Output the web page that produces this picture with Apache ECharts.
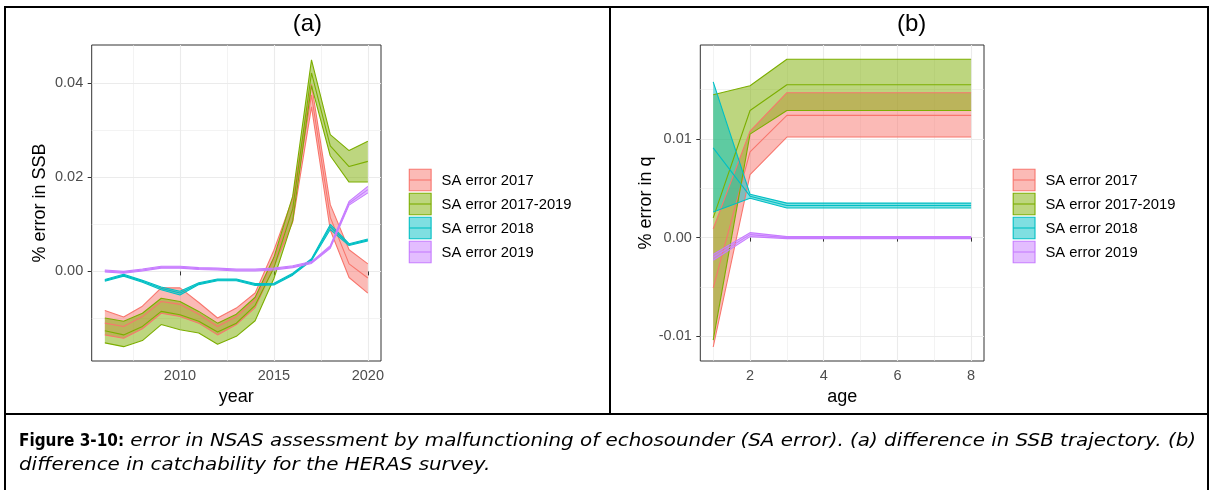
<!DOCTYPE html>
<html>
<head>
<meta charset="utf-8">
<script src="https://cdn.jsdelivr.net/npm/echarts@6/dist/echarts.min.js"></script>
<style>
html,body{margin:0;padding:0;background:#fff;}
#chart{width:1211px;height:490px;}
</style>
</head>
<body>
<div id="chart"></div>
<script>
// ---------- data ----------
const seriesNames = ['SA error 2017', 'SA error 2017-2019', 'SA error 2018', 'SA error 2019'];
const seriesColors = ['#F8766D', '#7CAE00', '#00BFC4', '#C77CFF'];
const seriesFills = ['rgba(248,118,109,0.5)', 'rgba(124,174,0,0.5)', 'rgba(0,191,196,0.5)', 'rgba(199,124,255,0.5)'];

// panel (a): % error in SSB by year
const years = [2006, 2007, 2008, 2009, 2010, 2011, 2012, 2013, 2014, 2015, 2016, 2017, 2018, 2019, 2020];
const ssbLow2017 = [-0.0135, -0.0142, -0.0122, -0.0089, -0.0096, -0.0110, -0.0135, -0.0113, -0.0077, 0.0010, 0.0105, 0.0350, 0.0088, -0.0013, -0.0046];
const ssbMid2017 = [-0.0110, -0.0117, -0.0096, -0.0064, -0.0070, -0.0091, -0.0117, -0.0096, -0.0060, 0.0027, 0.0130, 0.0375, 0.0115, 0.0016, -0.0014];
const ssbHigh2017 = [-0.0083, -0.0097, -0.0074, -0.0035, -0.0035, -0.0066, -0.0099, -0.0078, -0.0046, 0.0045, 0.0155, 0.0398, 0.0142, 0.0046, 0.0016];
const ssbLow20172019 = [-0.0152, -0.0160, -0.0147, -0.0113, -0.0124, -0.0131, -0.0155, -0.0138, -0.0105, -0.0015, 0.0108, 0.0395, 0.0246, 0.0190, 0.0190];
const ssbMid20172019 = [-0.0126, -0.0135, -0.0117, -0.0085, -0.0092, -0.0106, -0.0129, -0.0110, -0.0072, 0.0008, 0.0133, 0.0422, 0.0267, 0.0223, 0.0234];
const ssbHigh20172019 = [-0.0099, -0.0106, -0.0089, -0.0057, -0.0064, -0.0085, -0.0110, -0.0091, -0.0055, 0.0030, 0.0160, 0.0450, 0.0291, 0.0257, 0.0277];
const ssbLow2018 = [-0.0021, -0.0010, -0.0023, -0.0039, -0.0050, -0.0028, -0.0020, -0.0020, -0.0030, -0.0029, -0.0008, 0.0023, 0.0089, 0.0055, 0.0065];
const ssbMid2018 = [-0.0019, -0.0008, -0.0021, -0.0036, -0.0046, -0.0026, -0.0018, -0.0018, -0.0028, -0.0027, -0.0006, 0.0025, 0.0095, 0.0057, 0.0067];
const ssbHigh2018 = [-0.0017, -0.0006, -0.0019, -0.0033, -0.0042, -0.0024, -0.0016, -0.0016, -0.0026, -0.0025, -0.0004, 0.0027, 0.0100, 0.0059, 0.0069];
const ssbLow2019 = [-0.0001, -0.0004, 0.0001, 0.0007, 0.0007, 0.0004, 0.0003, 0.0001, 0.0001, 0.0003, 0.0008, 0.0017, 0.0049, 0.0141, 0.0167];
const ssbMid2019 = [0.0001, -0.0002, 0.0003, 0.0009, 0.0009, 0.0006, 0.0005, 0.0003, 0.0003, 0.0005, 0.0010, 0.0019, 0.0052, 0.0145, 0.0174];
const ssbHigh2019 = [0.0003, 0.0000, 0.0005, 0.0011, 0.0011, 0.0008, 0.0007, 0.0005, 0.0005, 0.0007, 0.0012, 0.0021, 0.0055, 0.0149, 0.0181];

// panel (b): % error in q by age
const ages = [1, 2, 3, 4, 5, 6, 7, 8];
const qLow2017 = [-0.0111, 0.0064, 0.0102, 0.0102, 0.0102, 0.0102, 0.0102, 0.0102];
const qMid2017 = [-0.0051, 0.0087, 0.0124, 0.0124, 0.0124, 0.0124, 0.0124, 0.0124];
const qHigh2017 = [0.0009, 0.0108, 0.0147, 0.0147, 0.0147, 0.0147, 0.0147, 0.0147];
const qLow20172019 = [-0.0104, 0.0105, 0.0129, 0.0129, 0.0129, 0.0129, 0.0129, 0.0129];
const qMid20172019 = [0.0020, 0.0129, 0.0155, 0.0155, 0.0155, 0.0155, 0.0155, 0.0155];
const qHigh20172019 = [0.0145, 0.0154, 0.0181, 0.0181, 0.0181, 0.0181, 0.0181, 0.0181];
const qLow2018 = [0.0026, 0.0040, 0.0030, 0.0030, 0.0030, 0.0030, 0.0030, 0.0030];
const qMid2018 = [0.0091, 0.0042, 0.00325, 0.00325, 0.00325, 0.00325, 0.00325, 0.00325];
const qHigh2018 = [0.0158, 0.0044, 0.0035, 0.0035, 0.0035, 0.0035, 0.0035, 0.0035];
const qLow2019 = [-0.0023, 0.0001, -0.0001, -0.0001, -0.0001, -0.0001, -0.0001, -0.0001];
const qMid2019 = [-0.0020, 0.0003, 0.0000, 0.0000, 0.0000, 0.0000, 0.0000, 0.0000];
const qHigh2019 = [-0.0017, 0.0005, 0.0001, 0.0001, 0.0001, 0.0001, 0.0001, 0.0001];

// tick labels
const yearTicks = [2010, 2015, 2020];
const yearMinor = [2007.5, 2012.5, 2017.5];
const ssbTicks = [0.00, 0.02, 0.04];
const ssbMinor = [-0.01, 0.01, 0.03];
const ageTicks = [2, 4, 6, 8];
const ageMinor = [1, 3, 5, 7];
const qTicks = [-0.01, 0.00, 0.01];
const qMinor = [-0.005, 0.005, 0.015];

const captionBold = 'Figure 3-10:';
const captionLine1 = ' error in NSAS assessment by malfunctioning of echosounder (SA error). (a) difference in SSB trajectory. (b)';
const captionLine2 = 'difference in catchability for the HERAS survey.';

// ---------- build ----------
const FONT = '"Liberation Sans", Arial, sans-serif';
const panelA = {x: years, groups: [
  [ssbLow2017, ssbMid2017, ssbHigh2017],
  [ssbLow20172019, ssbMid20172019, ssbHigh20172019],
  [ssbLow2018, ssbMid2018, ssbHigh2018],
  [ssbLow2019, ssbMid2019, ssbHigh2019]]};
const panelB = {x: ages, groups: [
  [qLow2017, qMid2017, qHigh2017],
  [qLow20172019, qMid20172019, qHigh20172019],
  [qLow2018, qMid2018, qHigh2018],
  [qLow2019, qMid2019, qHigh2019]]};

function ribbonRender(fill) {
  return function (params, api) {
    if (params.dataIndexInside !== 0) return null;
    const n = params.dataInsideLength;
    const upper = [], lower = [];
    for (let i = 0; i < n; i++) {
      upper.push(api.coord([api.value(0, i), api.value(2, i)]));
      lower.push(api.coord([api.value(0, i), api.value(1, i)]));
    }
    return {type: 'polygon', shape: {points: upper.concat(lower.reverse())},
      style: {fill: fill, stroke: 'none'}};
  };
}

const series = [];
[panelA, panelB].forEach((panel, p) => {
  panel.groups.forEach((g, k) => {
    const [lo, mid, hi] = g;
    series.push({type: 'custom', name: seriesNames[k] + ' ribbon ' + p, xAxisIndex: p * 2, yAxisIndex: p * 2,
      silent: true, animation: false, clip: true,
      renderItem: ribbonRender(seriesFills[k]),
      encode: {x: 0, y: [1, 2]},
      data: panel.x.map((x, i) => [x, lo[i], hi[i]])});
    [lo, mid, hi].forEach((arr, j) => {
      series.push({type: 'line', name: seriesNames[k] + ' line' + j + ' ' + p, xAxisIndex: p * 2, yAxisIndex: p * 2,
        symbol: 'none', silent: true, animation: false,
        lineStyle: {color: seriesColors[k], width: 1.1}, itemStyle: {color: seriesColors[k]},
        data: panel.x.map((x, i) => [x, arr[i]])});
    });
  });
});

function majorAxis(gridIndex, min, max, ticks, fmt, name, nameGap, labelMargin) {
  return {type: 'value', gridIndex, min, max,
    axisLine: {show: false},
    axisTick: {show: true, length: 4, lineStyle: {color: '#333', width: 1}, customValues: ticks},
    axisLabel: {customValues: ticks, color: '#4D4D4D', fontSize: 14.5, fontFamily: FONT, margin: labelMargin, formatter: fmt},
    splitLine: {show: true, lineStyle: {color: '#EBEBEB', width: 1.1}},
    minorTick: {show: false}, minorSplitLine: {show: false},
    name, nameLocation: 'middle', nameGap,
    nameTextStyle: {fontSize: 18, color: '#000', fontFamily: FONT}};
}
function minorAxis(gridIndex, min, max, ticks, position) {
  return {type: 'value', gridIndex, min, max, position,
    axisLine: {show: false},
    axisTick: {show: false, customValues: ticks},
    axisLabel: {show: false, customValues: ticks},
    splitLine: {show: true, lineStyle: {color: '#EBEBEB', width: 0.6}}};
}
const f0 = v => String(v);
const f2 = v => (Math.abs(v) < 1e-9 ? 0 : v).toFixed(2);

const grids = [
  {left: 91.7, top: 45, width: 289.3, height: 316},
  {left: 700.3, top: 45, width: 283.7, height: 316}
].map(g => Object.assign(g, {show: true, borderColor: '#333', borderWidth: 1, backgroundColor: '#fff', containLabel: false}));

const xAxes = [
  majorAxis(0, 2005.3, 2020.7, yearTicks, f0, 'year', 26, 7),
  minorAxis(0, 2005.3, 2020.7, yearMinor, 'top'),
  majorAxis(1, 0.65, 8.35, ageTicks, f0, 'age', 26, 7),
  minorAxis(1, 0.65, 8.35, ageMinor, 'top')
];
const yAxes = [
  majorAxis(0, -0.01905, 0.04815, ssbTicks, f2, '% error in SSB', 43, 8.5),
  minorAxis(0, -0.01905, 0.04815, ssbMinor, 'right'),
  majorAxis(1, -0.01252, 0.01954, qTicks, f2, '% error in q', 44, 8.5),
  minorAxis(1, -0.01252, 0.01954, qMinor, 'right')
];

// graphics: frame, titles, legends, caption
const graphic = [];
const frameLine = (x1, y1, x2, y2) => graphic.push({type: 'line', silent: true,
  shape: {x1, y1, x2, y2}, style: {stroke: '#000', lineWidth: 2}});
frameLine(4, 7, 1209, 7);
frameLine(5, 6, 5, 490);
frameLine(1208, 6, 1208, 490);
frameLine(610, 7, 610, 414);
frameLine(4, 414, 1209, 414);

graphic.push({type: 'text', silent: true, x: 307.4, y: 24, style: {text: '(a)', font: '24px ' + FONT, fill: '#000', align: 'center', verticalAlign: 'middle'}});
graphic.push({type: 'text', silent: true, x: 911.6, y: 24, style: {text: '(b)', font: '24px ' + FONT, fill: '#000', align: 'center', verticalAlign: 'middle'}});

[409.3, 1013.2].forEach(kx => {
  seriesNames.forEach((nm, k) => {
    const y0 = 169.3 + k * 24;
    graphic.push({type: 'rect', silent: true, shape: {x: kx, y: y0, width: 21.8, height: 21.4},
      style: {fill: seriesFills[k], stroke: seriesColors[k], lineWidth: 1.1}});
    graphic.push({type: 'line', silent: true, shape: {x1: kx, y1: y0 + 10.7, x2: kx + 21.8, y2: y0 + 10.7},
      style: {stroke: seriesColors[k], lineWidth: 1.1}});
    graphic.push({type: 'text', silent: true, x: kx + 32.3, y: y0 + 11.2,
      style: {text: nm, font: '14.8px ' + FONT, fill: '#000', align: 'left', verticalAlign: 'middle'}});
  });
});

// caption: measure text, then stretch horizontally to the reference's span
const BOLDF = 'bold 18px "DejaVu Sans Condensed", "DejaVu Sans", Verdana, sans-serif';
const ITF = 'italic 18px "DejaVu Sans", Verdana, sans-serif';
const mctx = document.createElement('canvas').getContext('2d');
mctx.font = BOLDF; const wBold = mctx.measureText(captionBold).width;
mctx.font = ITF; const wIt = mctx.measureText(captionLine1).width;
const capLeft = 19, boldEnd = 124, lineEnd = 1196;
const sBold = (boldEnd - capLeft) / wBold;
const sIt = (lineEnd - boldEnd) / wIt;
graphic.push({type: 'text', silent: true, x: capLeft, y: 441, scaleX: sBold,
  style: {text: captionBold, font: BOLDF, fill: '#000', verticalAlign: 'middle'}});
graphic.push({type: 'text', silent: true, x: boldEnd, y: 441, scaleX: sIt,
  style: {text: captionLine1, font: ITF, fill: '#000', verticalAlign: 'middle'}});
graphic.push({type: 'text', silent: true, x: capLeft, y: 465, scaleX: sIt,
  style: {text: captionLine2, font: ITF, fill: '#000', verticalAlign: 'middle'}});

const chart = echarts.init(document.getElementById('chart'), null, {renderer: 'canvas'});
chart.setOption({
  backgroundColor: '#fff',
  animation: false,
  grid: grids,
  xAxis: xAxes,
  yAxis: yAxes,
  series,
  graphic
});
</script>
</body>
</html>
